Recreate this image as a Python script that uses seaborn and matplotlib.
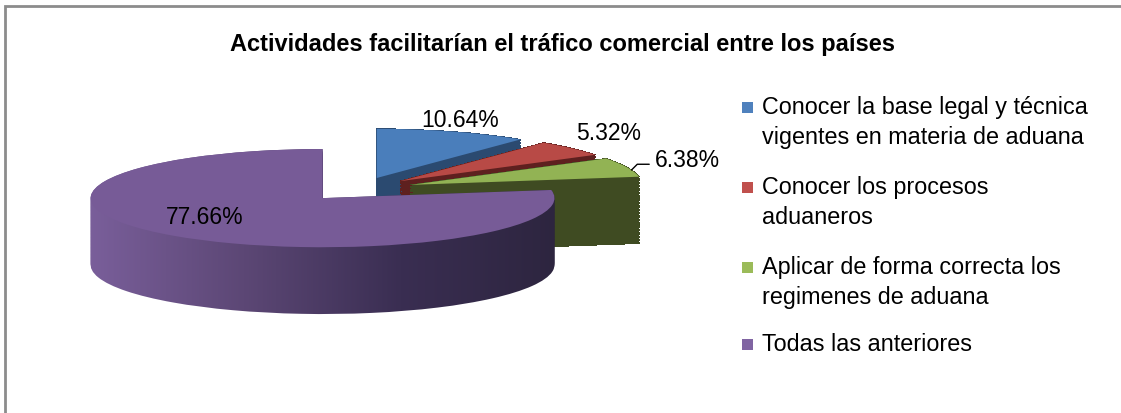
import numpy as np
import matplotlib
matplotlib.use("Agg")
import matplotlib.pyplot as plt
import seaborn as sns
from matplotlib.colors import LinearSegmentedColormap
from matplotlib.patches import Rectangle

categories = [
    "Conocer la base legal y técnica\nvigentes en materia de aduana",
    "Conocer los procesos\naduaneros",
    "Aplicar de forma correcta los\nregimenes de aduana",
    "Todas las anteriores",
]
values = [10.64, 5.32, 6.38, 77.66]
title = "Actividades facilitarían el tráfico comercial entre los países"

top_colors = ["#4a7ebb", "#b84a46", "#92b354", "#775b97"]
side_colors = ["#2b4a70", "#5e201f", "#3f4b22", "#5c4775"]
legend_colors = ["#4f81bd", "#c0504d", "#9bbb59", "#8064a2"]

sns.set_theme(style="white")
plt.rcParams["font.family"] = ["Liberation Sans", "DejaVu Sans"]
plt.rcParams["text.color"] = "black"

fig = plt.figure(figsize=(11.21, 4.14), dpi=100)
fig.patch.set_facecolor("white")

# chart border (gray frame running off the right/bottom edge)
fig.add_artist(Rectangle((5 / 1121, -0.1), 1.2, (414 - 7) / 414 + 0.1,
                         transform=fig.transFigure, fill=False,
                         edgecolor="#8c8c8c", linewidth=2.0))

# pie axes: 1 data unit = 232 px wide, ~49 px tall (flattened 3D look)
ax = fig.add_axes([57 / 1121, (414 - 335) / 414, 603 / 1121, 221 / 414])

explode = [0.24] * len(values)
depth = 1.36
n_layers = 48

purple_cmap = LinearSegmentedColormap.from_list(
    "pside", ["#7a5f9b", "#5c4775", "#3a2e52", "#2d253f"])
grad = np.linspace(0, 1, 256).reshape(1, -1)

# side walls: stack of flattened pies, bottom first
for i in range(n_layers):
    dy = -depth * (1 - i / (n_layers - 1))
    z = 1 + i
    wedges, _ = ax.pie(values, colors=side_colors, startangle=90,
                       counterclock=False, explode=explode, center=(0, dy),
                       wedgeprops=dict(linewidth=0, zorder=z,
                                       antialiased=False))
    # purple side gets Excel-like horizontal shading
    pw = wedges[3]
    pw.set_facecolor("none")
    im = ax.imshow(grad, cmap=purple_cmap, aspect="auto",
                   extent=(-1.17, 0.86, -3, 2), zorder=z,
                   interpolation="bilinear")
    im.set_clip_path(pw)

# top surface
top, _ = ax.pie(values, colors=top_colors, startangle=90,
                counterclock=False, explode=explode,
                wedgeprops=dict(linewidth=0, zorder=n_layers + 2))

ax.set_aspect("auto")
ax.set_xlim(-1.3, 1.3)
ax.set_ylim(-2.95, 1.55)
ax.axis("off")

# percentage labels
lab_kw = dict(fontsize=16.5, color="black", ha="center", va="center",
              zorder=n_layers + 5)
ax.text(0.44, 1.42, f"{values[0]:.2f}%", **lab_kw)
ax.text(1.08, 1.16, f"{values[1]:.2f}%", **lab_kw)
ax.text(-0.664, -0.55, f"{values[3]:.2f}%", **lab_kw)

g = top[2]
ang = np.deg2rad(g.theta1 + 0.35 * (g.theta2 - g.theta1))
gx = g.center[0] + g.r * np.cos(ang)
gy = g.center[1] + g.r * np.sin(ang)
ax.annotate(f"{values[2]:.2f}%", xy=(gx, gy), xytext=(1.42, 0.6),
            fontsize=16.5, ha="center", va="center", zorder=n_layers + 5,
            annotation_clip=False,
            arrowprops=dict(arrowstyle="-", color="black", lw=1.0,
                            shrinkA=2, shrinkB=0,
                            connectionstyle="angle,angleA=0,angleB=45,rad=0",
                            relpos=(0.0, 0.3)))

fig.text(563 / 1121, 1 - 45 / 414, title, fontsize=17, fontweight="bold",
         ha="center", va="center", color="black")

# legend
legend_y = [108, 188, 268, 345]
for col, lab, ly in zip(legend_colors, categories, legend_y):
    fig.add_artist(Rectangle((742 / 1121, 1 - (ly + 5.5) / 414), 11 / 1121,
                             11 / 414, transform=fig.transFigure,
                             facecolor=col, edgecolor="none"))
    fig.text(762 / 1121, 1 - (ly - 12) / 414, lab, fontsize=16.8,
             ha="left", va="top", linespacing=1.38, color="black")

fig.savefig("out.png", dpi=100)
